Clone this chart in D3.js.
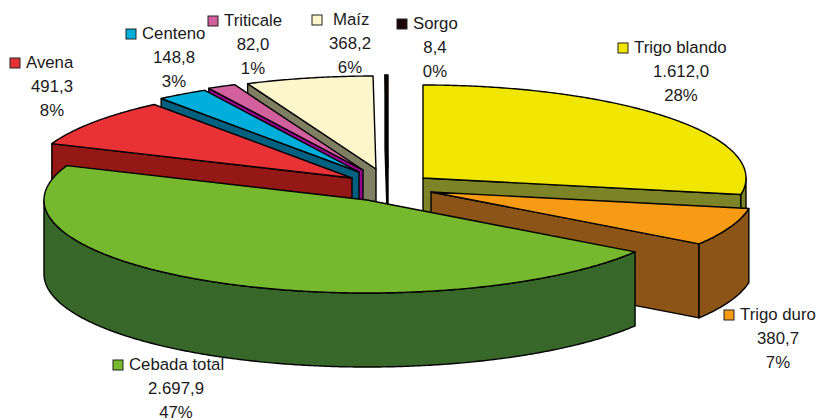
<!DOCTYPE html>
<html>
<head>
<meta charset="utf-8">
<script src="https://cdn.jsdelivr.net/npm/d3@7"></script>
<style>
html, body { margin: 0; padding: 0; background: #fff; }
svg { display: block; }
text { font-family: "Liberation Sans", Arial, sans-serif; font-size: 16.8px; fill: #1a1a1a; }
</style>
</head>
<body>
<svg id="chart" width="819" height="420"></svg>
<script>
const categories = ["Trigo blando", "Trigo duro", "Cebada total", "Avena", "Centeno", "Triticale", "Maíz", "Sorgo"];
const values = [1612.0, 380.7, 2697.9, 491.3, 148.8, 82.0, 368.2, 8.4];
const percents = [28, 7, 47, 8, 3, 1, 6, 0];

const topColors = ["#f0e600", "#f79a14", "#76b82e", "#e93236", "#00aedb", "#d2609e", "#fdf5cb", "#1a0505"];
const sideColors = ["#7d8427", "#8c5416", "#38672a", "#931816", "#006080", "#93008a", "#7f7f63", "#000000"];

// how far each slice is pulled out of the pie
const explodeX = [35, 43, -21, -36, -29, -25, -12, 0];
const explodeY = [-7, 7, 15, -7, -13, -15, -16, -17];

// label layout
const keyX = [618, 724, 113, 10, 126, 208, 312, 397];
const nameX = [634, 740, 129, 26, 142, 224, 333, 413];
const nameY = [53, 320, 370, 68, 39, 26, 25, 29];
const centerX = [681, 778, 176, 52, 174, 253, 350, 435];

const svg = d3.select("#chart");

const cx = 388;
const cy = 185;
const rx = 323;
const ry = 93;
const depth = 74;
const lineGap = 24;

const toDeg = 180 / Math.PI;
const pieAngles = d3.pie().sort(null)(values);
const numFormat = d3.formatLocale({ decimal: ",", thousands: ".", grouping: [3] }).format(",.1f");
const line = d3.line();

const slices = pieAngles.map((p, i) => ({
    index: i,
    start: p.startAngle * toDeg,
    end: p.endAngle * toDeg,
    ax: cx + explodeX[i],
    ay: cy + explodeY[i]
}));

function rimPoint(s, deg, drop) {
    const a = deg / toDeg;
    return [s.ax + rx * Math.sin(a), s.ay - ry * Math.cos(a) + drop];
}

function arcPoints(s, from, to, drop) {
    const n = Math.max(2, Math.ceil((to - from) * 2));
    return d3.range(n + 1).map(k => rimPoint(s, from + (to - from) * k / n, drop));
}

function drawPath(points, fill) {
    svg.append("path")
        .attr("d", line(points) + "Z")
        .attr("fill", fill)
        .attr("stroke", "#000")
        .attr("stroke-width", 1.4)
        .attr("stroke-linejoin", "round");
}

function radialFace(s, deg) {
    const p = rimPoint(s, deg, 0);
    drawPath([[s.ax, s.ay], p, [p[0], p[1] + depth], [s.ax, s.ay + depth]], sideColors[s.index]);
}

function drawSlice(s) {
    // radial walls only show when they face the viewer
    if (s.start >= 180) radialFace(s, s.start);
    if (s.end <= 180) radialFace(s, s.end);

    // outer wall, front half of the ellipse only
    const from = Math.max(s.start, 90);
    const to = Math.min(s.end, 270);
    if (to > from) {
        const upper = arcPoints(s, from, to, 0);
        const lower = arcPoints(s, from, to, depth).reverse();
        drawPath(upper.concat(lower), sideColors[s.index]);
    }

    drawPath([[s.ax, s.ay]].concat(arcPoints(s, s.start, s.end, 0)), topColors[s.index]);
}

// back slices first, the big green one goes on top
const drawOrder = [7, 6, 5, 4, 3, 0, 1, 2];
drawOrder.forEach(i => drawSlice(slices[i]));

/*
/   Labels
*/

categories.forEach((name, i) => {
    svg.append("rect")
        .attr("x", keyX[i])
        .attr("y", nameY[i] - 10)
        .attr("width", 10)
        .attr("height", 10)
        .attr("fill", topColors[i])
        .attr("stroke", "#222")
        .attr("stroke-width", 1);

    svg.append("text")
        .attr("x", nameX[i])
        .attr("y", nameY[i])
        .text(name);

    svg.append("text")
        .attr("x", centerX[i])
        .attr("y", nameY[i] + lineGap)
        .attr("text-anchor", "middle")
        .text(numFormat(values[i]));

    svg.append("text")
        .attr("x", centerX[i])
        .attr("y", nameY[i] + lineGap * 2)
        .attr("text-anchor", "middle")
        .text(percents[i] + "%");
});
</script>
</body>
</html>
